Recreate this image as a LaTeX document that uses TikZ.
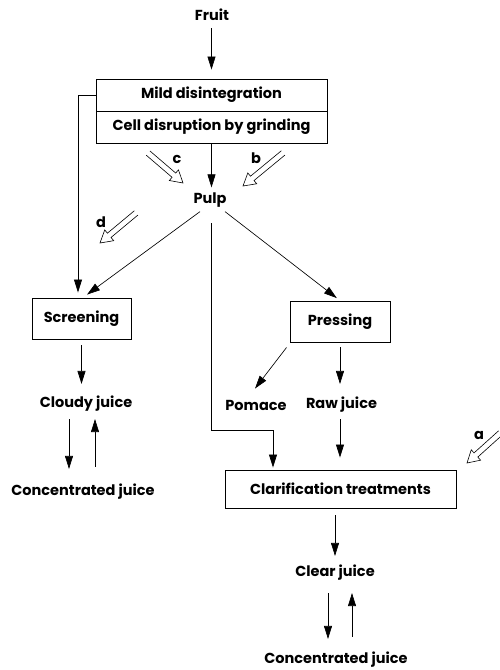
\documentclass[tikz,border=0pt]{standalone}
\usepackage{fontspec}
\setmainfont{Poppins}
\usetikzlibrary{arrows.meta}
\newcommand\hollowarr[3]{%
  \begin{scope}[shift={#1},rotate=#2]
    \draw[line width=0.6pt,fill=white,line join=miter]
      (-#3,2.8) -- (-12,2.8) -- (-12,7) -- (0,0) -- (-12,-7) -- (-12,-2.8) -- (-#3,-2.8);
  \end{scope}}
\begin{document}
\begin{tikzpicture}[x=1pt,y=-1pt, line width=0.65pt,
  lbl/.style={font=\bfseries\fontsize{14.5}{16}\selectfont, inner sep=1pt},
  box/.style={draw, line width=0.9pt, lbl, inner sep=0pt},
  arr/.style={-{Triangle[length=13pt,width=8pt]}},
  ]
\useasboundingbox (0,0) rectangle (499,670);

% nodes
\node[lbl] (fruit) at (212,15) {Fruit};
\node[box, minimum width=231pt, minimum height=32pt] (mild) at (211.5,95) {Mild disintegration};
\node[box, minimum width=231pt, minimum height=32pt] (cell) at (211.5,127) {Cell disruption by grinding};
\node[lbl] (pulp) at (210,200) {Pulp};
\node[box, minimum width=99pt, minimum height=41pt] (screen) at (81.5,318.5) {Screening};
\node[box, minimum width=100pt, minimum height=41pt] (press) at (340,321.5) {Pressing};
\node[lbl] (cloudy) at (86,404) {Cloudy juice};
\node[lbl] (conc1) at (83,492) {Concentrated juice};
\node[lbl] (pomace) at (256,405) {Pomace};
\node[lbl] (raw) at (341.5,405) {Raw juice};
\node[box, minimum width=231pt, minimum height=38pt] (clar) at (340.5,489) {Clarification treatments};
\node[lbl] (clear) at (335,573) {Clear juice};
\node[lbl] (conc2) at (336,660) {Concentrated juice};

\node[lbl] (lc) at (177,159) {c};
\node[lbl] (lb) at (256,158) {b};
\node[lbl] (ld) at (101,222) {d};
\node[lbl] (la) at (479,435) {a};

% connectors
\draw[arr, shorten <=6pt, shorten >=9pt] (fruit.south -| mild.north) -- (mild.north);
\draw[arr, shorten >=5pt] (mild.west) -| ([xshift=-3.5pt]screen.north);
\draw[arr, shorten >=4pt] (cell.south) -- (cell.south |- pulp.north);
\draw[arr, shorten >=5pt] ([xshift=-10pt,yshift=-3pt]pulp.south) -- ([xshift=1.5pt]screen.north);
\draw[arr, shorten >=4pt] ([xshift=15pt,yshift=-3pt]pulp.south) -- (press.north);
\coordinate (pm) at (211,223);
\coordinate (pbend) at (211,430);
\draw[arr, shorten >=2pt] (pm) -- (pbend) -| ([xshift=-67.5pt]clar.north);

\draw[arr, shorten <=6pt, shorten >=11pt] (screen.south) -- (screen.south |- cloudy.north);
\draw[arr, shorten <=6pt, shorten >=14pt] ([xshift=-17pt]cloudy.south) -- ([xshift=-17pt]cloudy.south |- conc1.north);
\draw[arr, shorten <=16pt, shorten >=6pt] ([xshift=9pt]cloudy.south |- conc1.north) -- ([xshift=9pt]cloudy.south);

\draw[arr] ([xshift=-3pt,yshift=-5pt]press.south west) -- ([xshift=-1pt,yshift=10pt]pomace.north);
\draw[arr, shorten <=5pt, shorten >=12pt] (press.south) -- (press.south |- raw.north);
\draw[arr, shorten <=5pt, shorten >=12pt] (raw.south -| press.south) -- (press.south |- clar.north);

\draw[arr, shorten <=7pt, shorten >=8pt] (clar.south -| clear.north) -- (clear.north);
\draw[arr, shorten <=11pt, shorten >=12pt] ([xshift=-7pt]clear.south) -- ([xshift=-7pt]clear.south |- conc2.north);
\draw[arr, shorten <=14pt, shorten >=11pt] ([xshift=17pt]clear.south |- conc2.north) -- ([xshift=17pt]clear.south);

% open arrows
\hollowarr{(183,183)}{-40.6}{46}
\hollowarr{(243,186)}{219.5}{52}
\hollowarr{(100,243)}{219.8}{47}
\hollowarr{(467,463)}{222}{45}
\end{tikzpicture}
\end{document}
